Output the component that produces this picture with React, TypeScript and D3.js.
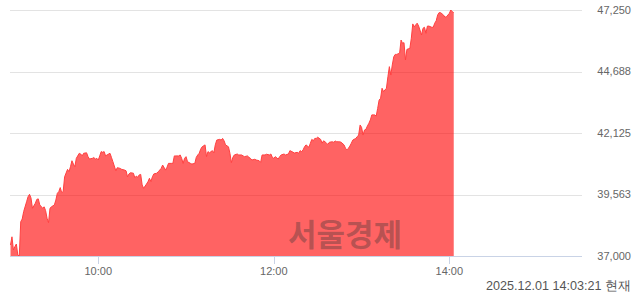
import React from "react";
import * as d3 from "d3";

// minutes since 09:00
const minutes = [
  0,1,2,3,4,5,6,7,8,9,11,12,13,14,15,17,18,19,20,22,23,24,25,26,27,28,30,31,32,33,34,35,36,37,39,40,41,42,43,44,45,47,48,49,50,52,53,54,56,57,58,59,60,
  61,62,63,64,65,66,68,69,70,72,73,75,76,78,79,80,81,82,84,85,86,87,88,89,90,91,93,94,95,96,97,98,100,101,102,103,104,106,107,108,110,111,112,113,115,116,117,118,119,120,
  121,123,124,126,127,128,129,130,131,133,134,135,136,138,139,140,141,143,144,145,146,147,149,150,151,152,153,155,156,158,159,160,162,163,164,165,167,168,170,171,172,174,175,177,178,179,180,
  181,183,184,185,187,188,190,191,193,194,196,197,198,199,200,201,202,204,205,206,207,208,209,210,212,213,214,215,216,217,218,220,221,222,223,224,225,226,228,229,230,231,232,233,234,236,237,238,239,240,
  241,242,243,244,245,246,247,249,250,251,252,253,254,255,257,258,259,260,261,262,263,264,266,267,268,269,270,271,273,274,275,276,277,278,279,281,282,283,284,285,286,288,289,290,291,292,293,294,296,297,298,299,300,301,302,303,
];

const prices = [
  37460,37800,37250,37390,37500,37040,37000,38430,38540,38850,39260,39470,39570,39420,38990,39200,39360,39380,39130,38990,39050,38890,38570,38390,38990,39050,39130,39330,39610,39680,39850,39640,39680,40300,40610,40510,40720,40970,40830,40720,41070,41280,41250,41170,41280,41300,41140,41040,41070,41100,41040,41070,41000,
  41170,41350,41320,41350,41170,41210,41280,41110,40930,40550,40680,40650,40610,40580,40550,40300,40420,40470,40450,40260,40330,40280,40380,40400,39960,39820,40000,40100,40240,40100,40300,40420,40450,40510,40580,40650,40790,40580,40700,40860,40860,40860,41170,41170,41170,41210,41070,40860,41070,41140,
  40930,40860,40830,40860,41110,41210,41280,41450,41550,41630,41140,41350,41300,41390,41300,41630,41830,41860,41830,41900,41800,41630,41550,41280,40890,41110,41210,41250,41210,41210,41170,41140,41170,41110,41070,41000,41030,41000,40970,40900,41210,41210,41240,41210,41250,41110,41070,
  41140,41040,41140,41210,41250,41210,41250,41390,41330,41290,41320,41280,41390,41350,41420,41550,41630,41530,41700,41860,41800,41900,41900,41950,41860,41700,41800,41760,41700,41650,41740,41760,41740,41790,41760,41760,41760,41740,41630,41490,41420,41490,41580,41700,41830,41900,41970,42040,42460,42360,
  42040,42250,42280,42420,42530,42670,42880,42880,42830,43150,43500,43570,43990,43850,43990,44470,44890,44540,44960,45300,45400,45400,45450,46000,45860,45890,45170,45610,45650,46070,46670,46550,46630,46700,46580,46210,46490,46530,46280,46580,46580,46530,46530,46700,46800,47040,47140,47140,47040,46950,46970,47040,47110,47250,47180,47140,
];

const yTicks = [37000, 39562.5, 42125, 44687.5, 47250];
const yTickLabels = ["37,000", "39,563", "42,125", "44,688", "47,250"];
const xTicks = [60, 180, 300];
const xTickLabels = ["10:00", "12:00", "14:00"];
const timestampText = "2025.12.01 14:03:21 현재";
const watermarkText = "서울경제";

const W = 640;
const H = 294;

export default function App() {
  const x = d3.scaleLinear().domain([0, 390]).range([10.5, 581]);
  const y = d3.scaleLinear().domain([37000, 47250]).range([256, 10]);
  const data = minutes.map((m, i) => ({ m, p: prices[i] }));

  const area = d3
    .area<{ m: number; p: number }>()
    .x((d) => x(d.m))
    .y0(y(37000))
    .y1((d) => y(d.p));
  const line = d3
    .line<{ m: number; p: number }>()
    .x((d) => x(d.m))
    .y((d) => y(d.p));

  const font = "'Liberation Sans', Arial, sans-serif";

  return (
    <svg
      width={W}
      height={H}
      style={{ position: "absolute", left: 0, top: 0, background: "#fff" }}
    >
      {yTicks.slice(1).map((t) => (
        <line
          key={t}
          x1={10}
          x2={582}
          y1={Math.round(y(t)) + 0.5}
          y2={Math.round(y(t)) + 0.5}
          stroke="#e3e3e3"
          strokeWidth={1}
        />
      ))}
      <path d={area(data) || ""} fill="#ff0000" fillOpacity={0.61} />
      <path d={line(data) || ""} fill="none" stroke="#ff4040" strokeWidth={1} />
      <line x1={10} x2={582} y1={256.5} y2={256.5} stroke="#c9d3e6" strokeWidth={1} />
      {xTicks.map((t, i) => (
        <g key={t}>
          <line
            x1={Math.round(x(t)) + 0.5}
            x2={Math.round(x(t)) + 0.5}
            y1={257}
            y2={264}
            stroke="#c9d3e6"
            strokeWidth={1}
          />
          <text
            x={x(t)}
            y={275}
            textAnchor="middle"
            fontFamily={font}
            fontSize={11}
            fill="#666"
          >
            {xTickLabels[i]}
          </text>
        </g>
      ))}
      {yTicks.map((t, i) => (
        <text
          key={t}
          x={631}
          y={y(t)}
          dy="0.36em"
          textAnchor="end"
          fontFamily={font}
          fontSize={11}
          fill="#666"
        >
          {yTickLabels[i]}
        </text>
      ))}
      <text
        x={345}
        y={235}
        dy="0.36em"
        textAnchor="middle"
        fontFamily="'Noto Sans CJK KR', sans-serif"
        fontWeight="bold"
        fontSize={31}
        fill="#333"
        fillOpacity={0.36}
      >
        {watermarkText}
      </text>
      <text
        x={631}
        y={290}
        textAnchor="end"
        fontFamily={font}
        fontSize={12.6}
        fill="#555"
      >
        {timestampText}
      </text>
    </svg>
  );
}
